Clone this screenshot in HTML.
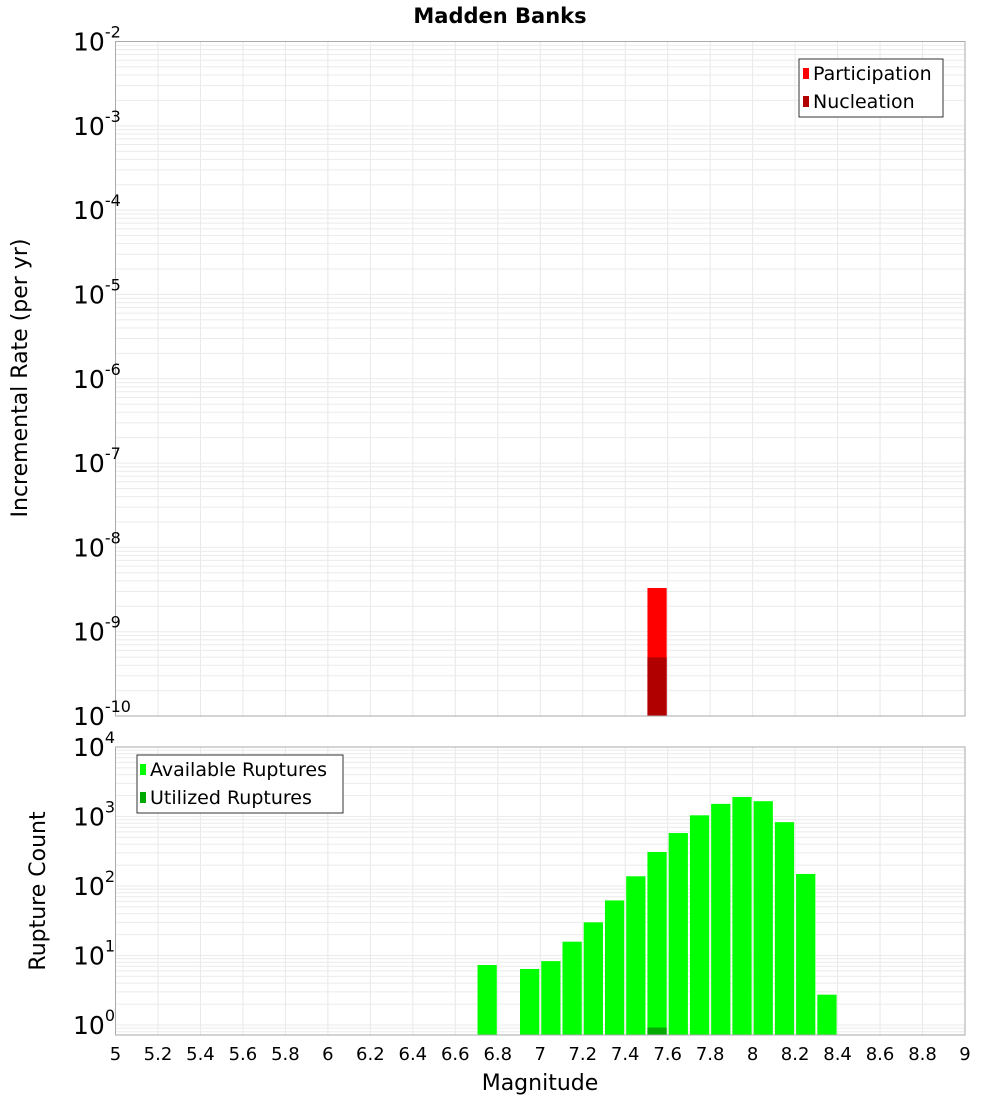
<!DOCTYPE html>
<html><head><meta charset="utf-8"><style>
body{margin:0;background:#fff;font-family:"Liberation Sans","DejaVu Sans",sans-serif}
svg text{font-family:"DejaVu Sans","Liberation Sans",sans-serif}
</style></head><body>
<svg id="chart" width="1000" height="1100" xmlns="http://www.w3.org/2000/svg">
<text x="500" y="23" text-anchor="middle" font-size="21" font-weight="bold">Madden Banks</text>
<g id="topG"></g>
<g id="botG"></g>
<text transform="translate(27,378) rotate(-90)" text-anchor="middle" font-size="22">Incremental Rate (per yr)</text>
<text transform="translate(45,891) rotate(-90)" text-anchor="middle" font-size="22">Rupture Count</text>
<text x="540" y="1090" text-anchor="middle" font-size="22">Magnitude</text>
<g id="legends">
<g>
<rect x="799" y="59" width="144" height="58" fill="#fff" stroke="#333"/>
<rect x="803" y="68" width="6" height="11" fill="#ff0000"/>
<text x="813" y="80" font-size="19">Participation</text>
<rect x="803" y="96" width="6" height="11" fill="#b00000"/>
<text x="813" y="108" font-size="19">Nucleation</text>
</g>
<g>
<rect x="137" y="755" width="206" height="58" fill="#fff" stroke="#333"/>
<rect x="140" y="764" width="6" height="11" fill="#00ff00"/>
<text x="150" y="776" font-size="19">Available Ruptures</text>
<rect x="140" y="792" width="6" height="11" fill="#00aa00"/>
<text x="150" y="804" font-size="19">Utilized Ruptures</text>
</g>
</g>
</svg>
<script>
const binCenters=[6.75,6.95,7.05,7.15,7.25,7.35,7.45,7.55,7.65,7.75,7.85,7.95,8.05,8.15,8.25,8.35];
const availableCounts=[7.3,6.4,8.3,15.8,30,62,138,309,578,1040,1520,1910,1660,830,149,2.73];
const utilizedCenters=[7.55];
const utilizedCounts=[0.92];
const rateCenters=[7.55];
const participationRates=[3.3e-9];
const nucleationRates=[4.95e-10];
const xTicks=[5,5.2,5.4,5.6,5.8,6,6.2,6.4,6.6,6.8,7,7.2,7.4,7.6,7.8,8,8.2,8.4,8.6,8.8,9];
const rateExps=[-10,-9,-8,-7,-6,-5,-4,-3,-2];
const countExps=[0,1,2,3,4];
const NS='http://www.w3.org/2000/svg';
const X0=115.5,X1=965;
const xs=m=>X0+(m-5)/4*(X1-X0);
const T0=41.5,T1=716;
const yTop=v=>T1-(Math.log10(v)+10)/8*(T1-T0);
const B0=747,Bdec=69.5,B1=1035;
const yBot=v=>Math.max(B0,Math.min(B1,B0+(4-Math.log10(v))*Bdec));
function mk(p,t,a){const e=document.createElementNS(NS,t);for(const k in a)e.setAttribute(k,a[k]);p.appendChild(e);return e;}
function grid(g,y0,y1,yf,emin,emax){
 for(const t of xTicks){const l=mk(g,'line',{x1:xs(t),x2:xs(t),y1:y0,y2:y1,stroke:'#e8e8e8'});
 
 }
 for(let e=emin-1;e<=emax;e++)for(let k=1;k<10;k++){const v=k*Math.pow(10,e);const y=yf(v);if(y<y0-0.1||y>y1+0.1)continue;
  const l=mk(g,'line',{x1:X0,x2:X1,y1:y,y2:y,stroke:'#ebebeb'});
  
  }
}
function ylabel(g,y,e,name){const t=mk(g,'text',{x:73,y:y+9,'font-size':25});
 
 
 t.textContent='10';const s=mk(t,'tspan',{dy:-13,'font-size':16});s.textContent=String(e);}
const topG=document.getElementById('topG'),botG=document.getElementById('botG');
grid(topG,T0,T1,yTop,-10,-2);
grid(botG,B0,B1,yBot,-1,4);
rateCenters.forEach((c,i)=>{
 const r=mk(topG,'rect',{x:xs(c-0.05)+1,width:xs(c+0.05)-xs(c-0.05)-2,y:yTop(participationRates[i]),height:T1-yTop(participationRates[i]),fill:'#ff0000'});
 
 
 const n=mk(topG,'rect',{x:xs(c-0.05)+1,width:xs(c+0.05)-xs(c-0.05)-2,y:yTop(nucleationRates[i]),height:T1-yTop(nucleationRates[i]),fill:'#b00000'});
 
 
});
binCenters.forEach((c,i)=>{
 const y=yBot(availableCounts[i]);
 const r=mk(botG,'rect',{x:xs(c-0.05)+1,width:xs(c+0.05)-xs(c-0.05)-2,y:y,height:B1-y,fill:'#00ff00'});
 
 
});
utilizedCenters.forEach((c,i)=>{
 const y=yBot(utilizedCounts[i]);
 const r=mk(botG,'rect',{x:xs(c-0.05)+1,width:xs(c+0.05)-xs(c-0.05)-2,y:y,height:B1-y,fill:'#00aa00'});
 
 
});
const f1=mk(topG,'rect',{x:X0,y:T0,width:X1-X0,height:T1-T0,fill:'none',stroke:'#aaa'});


const f2=mk(botG,'rect',{x:X0,y:B0,width:X1-X0,height:B1-B0,fill:'none',stroke:'#aaa'});


rateExps.forEach(e=>ylabel(topG,yTop(Math.pow(10,e)),e,'rate-y-tick-label'));
countExps.forEach(e=>ylabel(botG,yBot(Math.pow(10,e)),e,'count-y-tick-label'));
xTicks.forEach(t=>{const l=mk(botG,'text',{x:xs(t),y:1060,'text-anchor':'middle','font-size':18});
 
 
 l.textContent=String(t);});
const svg=document.getElementById('chart');svg.appendChild(document.getElementById('legends'));
</script>
</body></html>
